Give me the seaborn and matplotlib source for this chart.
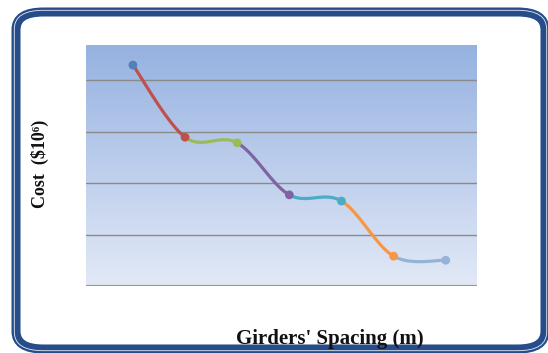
import numpy as np
import pandas as pd
import matplotlib
matplotlib.use("Agg")
import matplotlib.pyplot as plt
from matplotlib.patches import FancyBboxPatch
import seaborn as sns

# Girder spacing options (category positions) and corresponding cost
spacing = [1, 2, 3, 4, 5, 6, 7]
cost = [4.29, 2.89, 2.78, 1.77, 1.65, 0.58, 0.50]
grid_levels = [1, 2, 3, 4]

point_colors = ["#4F81BD", "#C0504D", "#9BBB59", "#8064A2", "#4BACC6", "#F79646", "#95B3D7"]

sns.set_theme(style="white")
plt.rcParams["font.family"] = ["Liberation Serif", "DejaVu Serif"]

fig = plt.figure(figsize=(5.48, 3.53), dpi=100)
fig.patch.set_facecolor("white")

# Rounded outer frame with double border
frame_color = "#264C8A"
outer = FancyBboxPatch((16 / 548, 4 / 353), 529 / 548, 337 / 353,
                       boxstyle="round,pad=0,rounding_size=0.05",
                       transform=fig.transFigure, facecolor="none",
                       edgecolor=frame_color, linewidth=6.5, zorder=0)
fig.patches.append(outer)
inner_line = FancyBboxPatch((14.3 / 548, 2.3 / 353), 532.4 / 548, 340.4 / 353,
                            boxstyle="round,pad=0,rounding_size=0.053",
                            transform=fig.transFigure, facecolor="none",
                            edgecolor="#E8EEF8", linewidth=0.6, zorder=1)
fig.patches.append(inner_line)

ax = fig.add_axes([86 / 548, 1 - 286 / 353, 391 / 548, 241 / 353])
xmin, xmax = spacing[0] - 0.90, spacing[-1] + 0.60
ymin, ymax = 0, 4.68
ax.set_xlim(xmin, xmax)
ax.set_ylim(ymin, ymax)

# Vertical gradient background of the plot area
top_rgb = np.array([150, 178, 225]) / 255
bot_rgb = np.array([226, 233, 246]) / 255
t = np.linspace(0, 1, 256)[:, None]
grad = (top_rgb * (1 - t) + bot_rgb * t)[:, None, :]
ax.imshow(grad, extent=[xmin, xmax, ymin, ymax], aspect="auto", zorder=0,
          origin="upper")

for g in grid_levels:
    ax.axhline(g, color="#8A8A8A", linewidth=1.0, zorder=1)
ax.axhline(0, color="#9A9A9A", linewidth=1.6, zorder=1)

# Smoothed line (Catmull-Rom style Bezier between consecutive points)
xs = np.array(spacing, dtype=float)
ys = np.array(cost, dtype=float)
n = len(xs)
rows = []
u = np.linspace(0, 1, 40)
for i in range(n - 1):
    p0 = np.array([xs[max(i - 1, 0)], ys[max(i - 1, 0)]])
    p1 = np.array([xs[i], ys[i]])
    p2 = np.array([xs[i + 1], ys[i + 1]])
    p3 = np.array([xs[min(i + 2, n - 1)], ys[min(i + 2, n - 1)]])
    c1 = p1 + (p2 - p0) / 6
    c2 = p2 - (p3 - p1) / 6
    for uu in u:
        pt = ((1 - uu) ** 3) * p1 + 3 * ((1 - uu) ** 2) * uu * c1 \
            + 3 * (1 - uu) * uu ** 2 * c2 + uu ** 3 * p2
        rows.append({"x": pt[0], "y": pt[1], "seg": i})
curve = pd.DataFrame(rows)

sns.lineplot(data=curve, x="x", y="y", hue="seg", palette=point_colors[1:],
             sort=False, estimator=None, linewidth=2.3, legend=False, ax=ax,
             zorder=3)

pts = pd.DataFrame({"x": spacing, "y": cost, "p": range(n)})
sns.scatterplot(data=pts, x="x", y="y", hue="p", palette=point_colors, s=40,
                edgecolor="none", legend=False, ax=ax, zorder=4)

ax.set_xticks([])
ax.set_yticks([])
ax.set_xlabel("")
ax.set_ylabel("")
for s in ax.spines.values():
    s.set_visible(False)

fig.text(40 / 548, 1 - 164 / 353, "Cost  ($10\u2076)", rotation=90,
         ha="center", va="center", fontsize=13, fontweight="bold",
         color="#111111")
fig.text(330 / 548, 1 - 339 / 353, "Girders' Spacing (m)", ha="center",
         va="center", fontsize=15, fontweight="bold", color="#111111")

fig.savefig("out.png", dpi=100, facecolor="white")
